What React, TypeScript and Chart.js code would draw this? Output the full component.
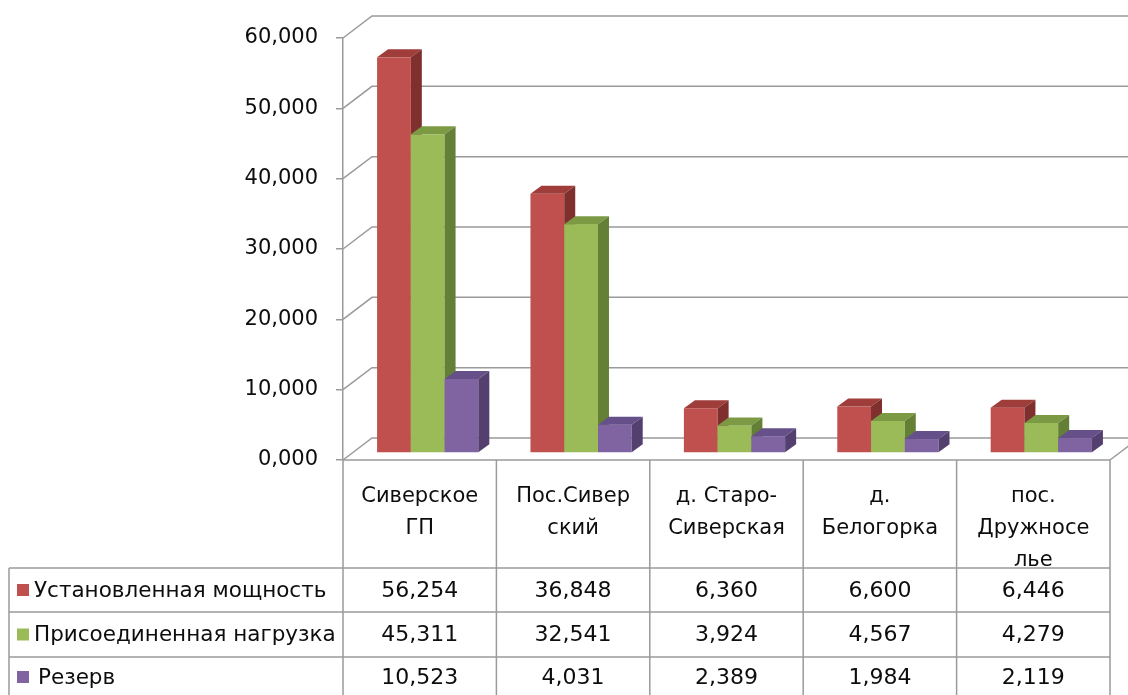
import { useEffect, useRef } from "react";
import { Chart, registerables } from "chart.js";

Chart.register(...registerables);

// Category names, split into the lines shown in the table header
const categories: string[][] = [
  ["Сиверское", "ГП"],
  ["Пос.Сивер", "ский"],
  ["д. Старо-", "Сиверская"],
  ["д.", "Белогорка"],
  ["пос.", "Дружносе", "лье"],
];

const seriesNames = ["Установленная мощность", "Присоединенная нагрузка", "Резерв"];

const installedPower = [56.254, 36.848, 6.36, 6.6, 6.446];
const connectedLoad = [45.311, 32.541, 3.924, 4.567, 4.279];
const reserve = [10.523, 4.031, 2.389, 1.984, 2.119];

const yMin = 0;
const yMax = 60;
const yStep = 10;

// Styling
const FONT = '"DejaVu Sans", sans-serif';
const TEXT = "#0d0d0d";
const GRID = "#9a9a9a";
const FRONT = ["#C0504D", "#9BBB59", "#8064A2"];
const TOP = ["#9E3D3A", "#7C9A44", "#66508A"];
const SIDE = ["#7F2F2D", "#647F36", "#54406F"];

const WALL = { dx: 29, dy: -22 }; // depth of the back wall
const SHIFT = { dx: 8, dy: -7 }; // bar front plane offset from the front axis
const DEPTH = { dx: 11, dy: -8 }; // depth of each bar

const fmt = (v: number) => v.toFixed(3).replace(".", ",");

const wallsPlugin = {
  id: "walls3d",
  beforeDraw(chart: any) {
    const { ctx, chartArea, scales } = chart;
    const { left, right, bottom } = chartArea;
    const y = scales.y;
    ctx.save();
    ctx.strokeStyle = GRID;
    ctx.lineWidth = 1.5;
    for (const t of y.ticks) {
      const py = y.getPixelForValue(t.value);
      ctx.beginPath();
      ctx.moveTo(left, py);
      ctx.lineTo(left + WALL.dx, py + WALL.dy);
      ctx.lineTo(chart.width + 50, py + WALL.dy);
      ctx.stroke();
    }
    // right edge of the floor
    ctx.beginPath();
    ctx.moveTo(right, bottom);
    ctx.lineTo(right + WALL.dx, bottom + WALL.dy);
    ctx.stroke();
    ctx.restore();
  },
};

const bars3dPlugin = {
  id: "bars3d",
  beforeDatasetsDraw(chart: any) {
    const ctx = chart.ctx;
    const n = chart.data.labels.length;
    const metas = chart.data.datasets.map((_: any, i: number) => chart.getDatasetMeta(i));
    ctx.save();
    for (let c = 0; c < n; c++) {
      metas.forEach((meta: any, d: number) => {
        const el = meta.data[c];
        const { x, y, base, width } = el.getProps(["x", "y", "base", "width"], true);
        const x0 = x - width / 2 + SHIFT.dx;
        const x1 = x + width / 2 + SHIFT.dx;
        const yt = y + SHIFT.dy;
        const yb = base + SHIFT.dy;
        ctx.fillStyle = FRONT[d];
        ctx.fillRect(x0, yt, x1 - x0, yb - yt);
        ctx.fillStyle = TOP[d];
        ctx.beginPath();
        ctx.moveTo(x0, yt);
        ctx.lineTo(x0 + DEPTH.dx, yt + DEPTH.dy);
        ctx.lineTo(x1 + DEPTH.dx, yt + DEPTH.dy);
        ctx.lineTo(x1, yt);
        ctx.closePath();
        ctx.fill();
        ctx.fillStyle = SIDE[d];
        ctx.beginPath();
        ctx.moveTo(x1, yt);
        ctx.lineTo(x1 + DEPTH.dx, yt + DEPTH.dy);
        ctx.lineTo(x1 + DEPTH.dx, yb + DEPTH.dy);
        ctx.lineTo(x1, yb);
        ctx.closePath();
        ctx.fill();
      });
    }
    ctx.restore();
    return false;
  },
};

const dataTablePlugin = {
  id: "dataTable",
  afterDraw(chart: any) {
    const { ctx, chartArea, scales } = chart;
    const { left, right, bottom } = chartArea;
    const x = scales.x;
    const n = categories.length;
    const step = (right - left) / n;
    const headerBottom = 568;
    const rowLines = [568, 612, 657];
    const rowCenters = [590, 634.5, 677];
    const tableBottom = chart.height + 10;
    const legendLeft = 9;

    ctx.save();
    ctx.strokeStyle = GRID;
    ctx.lineWidth = 1.5;
    // top edge of the table (front edge of the floor)
    ctx.beginPath();
    ctx.moveTo(left, bottom);
    ctx.lineTo(right, bottom);
    ctx.stroke();
    for (const ly of rowLines) {
      ctx.beginPath();
      ctx.moveTo(legendLeft, ly);
      ctx.lineTo(right, ly);
      ctx.stroke();
    }
    for (let i = 0; i <= n; i++) {
      const px = left + i * step;
      ctx.beginPath();
      ctx.moveTo(px, bottom);
      ctx.lineTo(px, tableBottom);
      ctx.stroke();
    }
    ctx.beginPath();
    ctx.moveTo(legendLeft, headerBottom);
    ctx.lineTo(legendLeft, tableBottom);
    ctx.stroke();

    // header labels
    ctx.fillStyle = TEXT;
    ctx.font = `21px ${FONT}`;
    ctx.textAlign = "center";
    ctx.textBaseline = "alphabetic";
    categories.forEach((lines, c) => {
      const cx = x.getPixelForValue(c);
      lines.forEach((line, i) => ctx.fillText(line, cx, 502 + 32 * i));
    });

    // series rows
    const series = [installedPower, connectedLoad, reserve];
    ctx.textBaseline = "middle";
    series.forEach((vals, r) => {
      const cy = rowCenters[r];
      ctx.font = `22px ${FONT}`;
      ctx.textAlign = "center";
      ctx.fillStyle = TEXT;
      vals.forEach((v, c) => ctx.fillText(fmt(v), x.getPixelForValue(c), cy + 1));
      ctx.fillStyle = FRONT[r];
      ctx.fillRect(17, cy - 6, 12, 12);
      ctx.fillStyle = TEXT;
      ctx.font = `21.5px ${FONT}`;
      ctx.textAlign = "left";
      ctx.fillText(seriesNames[r], r === 2 ? 38 : 34, cy + 1);
    });
    ctx.restore();
  },
};

export default function App() {
  const canvasRef = useRef<HTMLCanvasElement | null>(null);

  useEffect(() => {
    if (!canvasRef.current) return;
    const chart = new Chart(canvasRef.current, {
      type: "bar",
      data: {
        labels: categories.map((l) => l.join(" ")),
        datasets: [installedPower, connectedLoad, reserve].map((data, i) => ({
          label: seriesNames[i],
          data,
          backgroundColor: FRONT[i],
          borderWidth: 0,
          categoryPercentage: 0.66,
          barPercentage: 1,
        })),
      },
      options: {
        animation: false,
        responsive: true,
        maintainAspectRatio: false,
        layout: { padding: { top: 38, bottom: 235, right: 18, left: 0 } },
        plugins: { legend: { display: false }, tooltip: { enabled: false } },
        scales: {
          x: { display: false },
          y: {
            min: yMin,
            max: yMax,
            afterFit: (s: any) => {
              s.width = 343;
            },
            ticks: {
              stepSize: yStep,
              padding: 18,
              color: TEXT,
              font: { family: FONT, size: 21 },
              callback: (v: any) => fmt(Number(v)),
            },
            grid: {
              drawOnChartArea: false,
              drawTicks: true,
              tickLength: 7,
              color: GRID,
              lineWidth: 1.5,
            },
            border: { display: true, color: GRID, width: 1.5 },
          },
        },
      },
      plugins: [wallsPlugin, bars3dPlugin, dataTablePlugin],
    });
    return () => chart.destroy();
  }, []);

  return (
    <div style={{ position: "absolute", left: 0, top: 0, width: 1128, height: 695, background: "#fff" }}>
      <canvas ref={canvasRef} />
    </div>
  );
}
